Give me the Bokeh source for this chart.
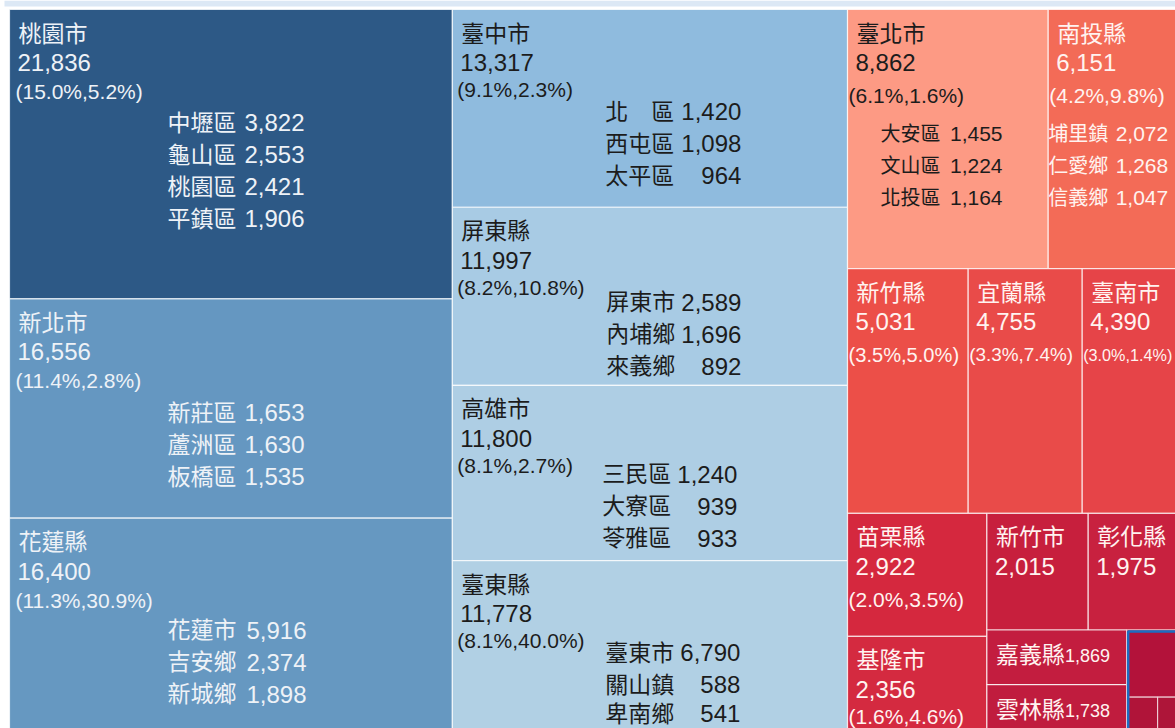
from bokeh.plotting import figure
from bokeh.models import ColumnDataSource, Range1d
from bokeh.core.properties import value
from bokeh.embed import file_html
from bokeh.resources import INLINE

# ---------------- data ----------------
counties = ["桃園市", "新北市", "花蓮縣", "臺中市", "屏東縣", "高雄市", "臺東縣",
            "臺北市", "南投縣", "新竹縣", "宜蘭縣", "臺南市", "苗栗縣", "基隆市",
            "新竹市", "彰化縣", "嘉義縣", "雲林縣"]
totals = [21836, 16556, 16400, 13317, 11997, 11800, 11778,
          8862, 6151, 5031, 4755, 4390, 2922, 2356,
          2015, 1975, 1869, 1738]
share_of_total = [15.0, 11.4, 11.3, 9.1, 8.2, 8.1, 8.1,
                  6.1, 4.2, 3.5, 3.3, 3.0, 2.0, 1.6,
                  None, None, None, None]
share_local = [5.2, 2.8, 30.9, 2.3, 10.8, 2.7, 40.0,
               1.6, 9.8, 5.0, 7.4, 1.4, 3.5, 4.6,
               None, None, None, None]

district_county = ["桃園市"] * 4 + ["新北市"] * 3 + ["花蓮縣"] * 3 + ["臺中市"] * 3 + \
                  ["屏東縣"] * 3 + ["高雄市"] * 3 + ["臺東縣"] * 3 + ["臺北市"] * 3 + ["南投縣"] * 3
district_name = ["中壢區", "龜山區", "桃園區", "平鎮區",
                 "新莊區", "蘆洲區", "板橋區",
                 "花蓮市", "吉安鄉", "新城鄉",
                 "北　區", "西屯區", "太平區",
                 "屏東市", "內埔鄉", "來義鄉",
                 "三民區", "大寮區", "苓雅區",
                 "臺東市", "關山鎮", "卑南鄉",
                 "大安區", "文山區", "北投區",
                 "埔里鎮", "仁愛鄉", "信義鄉"]
district_value = [3822, 2553, 2421, 1906,
                  1653, 1630, 1535,
                  5916, 2374, 1898,
                  1420, 1098, 964,
                  2589, 1696, 892,
                  1240, 939, 933,
                  6790, 588, 541,
                  1455, 1224, 1164,
                  2072, 1268, 1047]

# small remaining counties (tiles unlabeled, sizes)
other_names = ["嘉義市", "澎湖縣", "金門縣"]
other_values = [1000, 290, 280]

# treemap strip structure (order of slicing)
strip_kind = ["col", "col", "row", "row", "col", "row", "col"]
strip_members = [["桃園市", "新北市", "花蓮縣"],
                 ["臺中市", "屏東縣", "高雄市", "臺東縣"],
                 ["臺北市", "南投縣"],
                 ["新竹縣", "宜蘭縣", "臺南市"],
                 ["苗栗縣", "基隆市"],
                 ["新竹市", "彰化縣"],
                 ["嘉義縣", "雲林縣"]]

# ---------------- style ----------------
tile_colors = {
    "桃園市": "#2d5986", "新北市": "#6597c1", "花蓮縣": "#6698c1",
    "臺中市": "#8fbbde", "屏東縣": "#a8cbe4", "高雄市": "#aecee4", "臺東縣": "#b1d0e4",
    "臺北市": "#fd9a84", "南投縣": "#f36b57",
    "新竹縣": "#ec4f48", "宜蘭縣": "#e94b49", "臺南市": "#e64448",
    "苗栗縣": "#d5283e", "基隆市": "#d42a40",
    "新竹市": "#c71f3d", "彰化縣": "#c8213f",
    "嘉義縣": "#c31d3f", "雲林縣": "#c01c3e",
}
other_colors = ["#b3123a", "#b01439", "#ae1539"]
light_text = {"桃園市": "#eef2f7", "新北市": "#eef2f7", "花蓮縣": "#eef2f7"}
dark_set = {"臺中市", "屏東縣", "高雄市", "臺東縣", "臺北市"}

def text_color(c):
    if c in light_text:
        return light_text[c]
    if c in dark_set:
        return "#1c1c1c"
    return "#fff3f0"

# district block offsets (name x, first line y, value right x) relative to tile
district_style = {
    "桃園市": (158, 113, 295), "新北市": (158, 114, 295), "花蓮縣": (158, 112, 297),
    "臺中市": (153, 102, 289), "屏東縣": (154, 95, 289), "高雄市": (150, 89, 285),
    "臺東縣": (153, 92, 288), "臺北市": (33, 124, 155), "南投縣": (0, 124, 120),
}
col_of = {}
for ci, mem in enumerate(strip_members):
    for m in mem:
        col_of[m] = min(ci, 2)
pct_dx = [6, 5, 1]
pct_dy = [82, 80, 86]
district_font = [("23px", "24px"), ("23px", "24px"), ("20px", "21px")]

FONT = value("'Liberation Sans', 'Noto Sans CJK TC', sans-serif")
ARIAL_EM = {"(": 0.333, ")": 0.333, "%": 0.889, ",": 0.278, ".": 0.278}

def em_width(s):
    return sum(ARIAL_EM.get(ch, 0.556) for ch in s)

# ---------------- layout ----------------
W, H = 1178.0, 726.0
VIS_RIGHT = 1166.0
VIS_BOTTOM = 719.0
val = dict(zip(counties, totals))
others_total = sum(other_values)
rects = {}
x, y, w, h = 0.0, 0.0, W, H
remaining = float(sum(totals))
for i, (kind, members) in enumerate(zip(strip_kind, strip_members)):
    s = float(sum(val[m] for m in members))
    denom = remaining + (others_total if i == len(strip_kind) - 1 else 0)
    if kind == "col":
        sw = w * s / denom
        cy = y
        for m in members:
            mh = h * val[m] / s
            rects[m] = (x, cy, sw, mh)
            cy += mh
        x += sw
        w -= sw
    else:
        sh = h * s / denom
        cx = x
        for m in members:
            mw = w * val[m] / s
            rects[m] = (cx, y, mw, sh)
            cx += mw
        y += sh
        h -= sh
    remaining -= s

other_rects = []
top_h = h * other_values[0] / others_total
other_rects.append((x, y, w, top_h))
rest = sum(other_values[1:])
cx = x
for v in other_values[1:]:
    mw = w * v / rest
    other_rects.append((cx, y + top_h, mw, h - top_h))
    cx += mw
group_rect = (x, y, w, h)

# ---------------- figure ----------------
p = figure(width=1175, height=728, output_backend="svg", toolbar_location=None,
           x_range=Range1d(-9, 1166), y_range=Range1d(719, -9),
           min_border=0, min_border_left=0, min_border_right=0,
           min_border_top=0, min_border_bottom=0)
p.axis.visible = False
p.grid.visible = False
p.outline_line_color = None
p.background_fill_color = "white"
p.border_fill_color = "white"

# top band
p.quad(left=[-5], right=[1166], top=[-9], bottom=[-3], fill_color="#dce8f5", line_color=None)

tiles = ColumnDataSource(dict(
    left=[rects[c][0] for c in counties],
    right=[rects[c][0] + rects[c][2] for c in counties],
    top=[rects[c][1] for c in counties],
    bottom=[rects[c][1] + rects[c][3] for c in counties],
    color=[tile_colors[c] for c in counties],
))
p.quad(left="left", right="right", top="top", bottom="bottom", source=tiles,
       fill_color="color", line_color="white", line_alpha=0.75, line_width=1.2)

otiles = ColumnDataSource(dict(
    left=[r[0] for r in other_rects], right=[r[0] + r[2] for r in other_rects],
    top=[r[1] for r in other_rects], bottom=[r[1] + r[3] for r in other_rects],
    color=other_colors,
))
p.quad(left="left", right="right", top="top", bottom="bottom", source=otiles,
       fill_color="color", line_color="white", line_alpha=0.6, line_width=1.2)
gx, gy, gw, gh = group_rect
p.quad(left=[gx + 1.5], right=[gx + gw], top=[gy + 1.5], bottom=[gy + gh],
       fill_color=None, line_color="#1b6ec2", line_width=2.5)

# ---------------- labels ----------------
nx, ny, nt, nc = [], [], [], []
vx, vy, vt, vc = [], [], [], []
small_x, small_y, small_t, small_c = [], [], [], []
for c, tv, s1, s2 in zip(counties, totals, share_of_total, share_local):
    x0, y0, tw, th = rects[c]
    col = text_color(c)
    if th < 70:
        nx.append(x0 + 9); ny.append(y0 + 25); nt.append(c); nc.append(col)
        small_x.append(x0 + 78); small_y.append(min(y0 + 26, VIS_BOTTOM - 12))
        small_t.append(f"{tv:,}"); small_c.append(col)
        continue
    nx.append(x0 + 9); ny.append(y0 + 24); nt.append(c); nc.append(col)
    vx.append(x0 + 8); vy.append(y0 + 53); vt.append(f"{tv:,}"); vc.append(col)
    if s1 is not None:
        k = col_of[c]
        label = f"({s1:.1f}%,{s2:.1f}%)"
        avail = min(tw - 10, VIS_RIGHT - (x0 + pct_dx[k]) - 3)
        fs = min(21.0, avail / em_width(label))
        py = min(y0 + pct_dy[k], VIS_BOTTOM - 12)
        p.text(x=[x0 + pct_dx[k]], y=[py], text=[label], text_color=col, text_font=FONT,
               text_font_size=f"{fs:.1f}px", text_baseline="middle", text_align="left")

p.text(x=nx, y=ny, text=nt, text_color=nc, text_font=FONT, text_font_size="23px",
       text_baseline="middle", text_align="left")
p.text(x=vx, y=vy, text=vt, text_color=vc, text_font=FONT, text_font_size="24px",
       text_baseline="middle", text_align="left")
p.text(x=small_x, y=small_y, text=small_t, text_color=small_c, text_font=FONT,
       text_font_size="18px", text_baseline="middle", text_align="left")

groups = {}
line_idx = {}
for dc, dn, dv in zip(district_county, district_name, district_value):
    k = line_idx.get(dc, 0)
    line_idx[dc] = k + 1
    x0, y0, _, _ = rects[dc]
    sx, sy, sr = district_style[dc]
    ly = min(y0 + sy + 32 * k, VIS_BOTTOM - 15)
    g = groups.setdefault(col_of[dc], dict(nx=[], y=[], nt=[], vx=[], vt=[], c=[]))
    g["nx"].append(x0 + sx); g["y"].append(ly); g["nt"].append(dn)
    g["vx"].append(x0 + sr); g["vt"].append(f"{dv:,}"); g["c"].append(text_color(dc))

for k, g in groups.items():
    fn, fv = district_font[k]
    p.text(x=g["nx"], y=g["y"], text=g["nt"], text_color=g["c"], text_font=FONT,
           text_font_size=fn, text_baseline="middle", text_align="left")
    p.text(x=g["vx"], y=g["y"], text=g["vt"], text_color=g["c"], text_font=FONT,
           text_font_size=fv, text_baseline="middle", text_align="right")

open("out.html", "w").write(file_html(p, INLINE))
